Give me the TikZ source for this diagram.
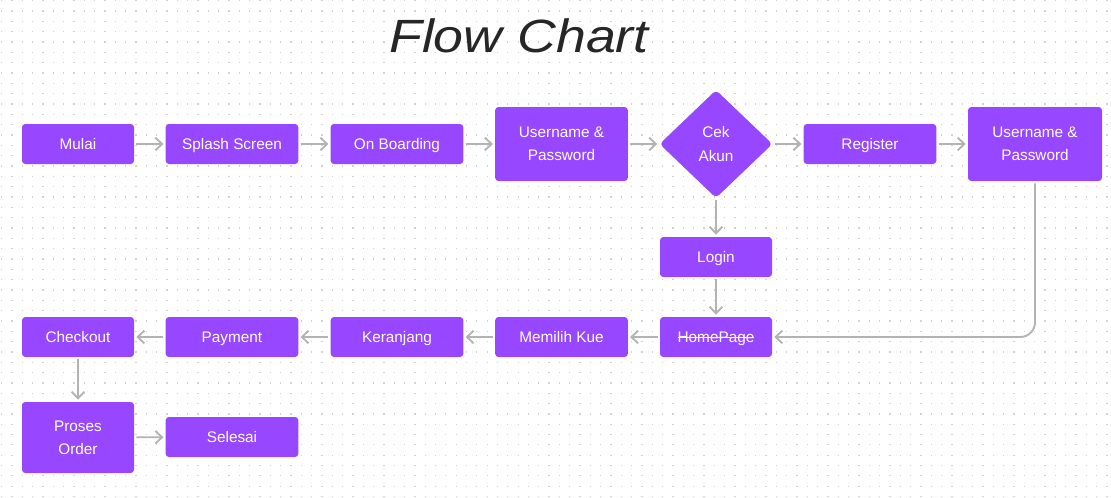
\documentclass[tikz,border=0pt]{standalone}
\usepackage{fontspec}
\setmainfont{Liberation Sans}
\newfontfamily\titlefont{Liberation Sans}
\usetikzlibrary{shapes.geometric,arrows.meta}
\definecolor{fpurple}{HTML}{9747FF}
\definecolor{fgray}{HTML}{B3B3B3}
\definecolor{fdot}{HTML}{D2D2D2}
\newcommand\mystrike[1]{\setbox0\hbox{#1}\rlap{\rule[0.28em]{\wd0}{0.07em}}\box0}
\tikzset{
  box/.style={fill=fpurple, rounded corners=2.5pt, text=white, align=center, inner sep=0pt,
    font=\fontsize{11.5pt}{17.5pt}\selectfont, minimum height=30pt},
  one/.style={text height=8.2pt, text depth=0pt},
  wsmall/.style={minimum width=84pt},
  wbig/.style={minimum width=99.5pt},
  decis/.style={diamond, fill=fpurple, rounded corners=3pt, text=white, align=center, inner sep=0pt,
    font=\fontsize{11.5pt}{17.5pt}\selectfont, minimum width=84.75pt, minimum height=81pt},
  conn/.style={draw=fgray, line width=1.4pt, -{Straight Barb[length=5pt,width=9.5pt]},
    shorten >=1.5pt, shorten <=1.5pt}
}
\begin{document}
\begin{tikzpicture}[x=0.75pt,y=-0.75pt]
\useasboundingbox (0,0) rectangle (1111,497);
\fill[white] (0,0) rectangle (1111,497);
\foreach \i in {0,...,107}{
  \foreach \j in {0,...,48}{
    \fill[fdot] ({1+\i*10.33},{\j*10.33}) rectangle ++(1.3,1.3);
  }
}
\node[text=black!85, font=\titlefont\itshape\fontsize{35pt}{35pt}\selectfont, xscale=1.15, anchor=base, inner sep=0pt] (title) at (519,52) {Flow Chart};

\node[box, one, wsmall] (mulai) at (78,144) {Mulai};
\node[box, one, wbig] (splash) at (232,144) {Splash Screen};
\node[box, one, wbig] (onb) at (397,144) {On Boarding};
\node[box, wbig, minimum height=55.5pt] (up1) at (561.5,144) {Username \&\\Password};
\node[decis] (cek) at (716,144) {Cek\\Akun};
\node[box, one, wbig] (reg) at (870,144) {Register};
\node[box, minimum width=100.5pt, minimum height=55.5pt] (up2) at (1035,144) {Username \&\\Password};
\node[box, one, wsmall] (login) at (716,257) {Login};
\node[box, one, wsmall] (home) at (716,337) {\mystrike{HomePage}};
\node[box, one, wbig] (memilih) at (561.5,337) {Memilih Kue};
\node[box, one, wbig] (keranjang) at (397,337) {Keranjang};
\node[box, one, wbig] (payment) at (232,337) {Payment};
\node[box, one, wsmall] (checkout) at (78,337) {Checkout};
\node[box, wsmall, minimum height=53.25pt] (proses) at (78,437.5) {Proses\\Order};
\node[box, one, wbig] (selesai) at (232,437) {Selesai};

\draw[conn] (mulai) -- (splash);
\draw[conn] (splash) -- (onb);
\draw[conn] (onb) -- (up1);
\draw[conn] (up1) -- (cek);
\draw[conn] (cek) -- (reg);
\draw[conn] (reg) -- (up2);
\draw[conn] (cek) -- (login);
\draw[conn] (login) -- (home);
\draw[conn, rounded corners=11pt] (up2.south) -- (up2.south |- home.east) -- (home.east);
\draw[conn] (home) -- (memilih);
\draw[conn] (memilih) -- (keranjang);
\draw[conn] (keranjang) -- (payment);
\draw[conn] (payment) -- (checkout);
\draw[conn] (checkout) -- (proses);
\draw[conn] (proses) -- (selesai);
\end{tikzpicture}
\end{document}
